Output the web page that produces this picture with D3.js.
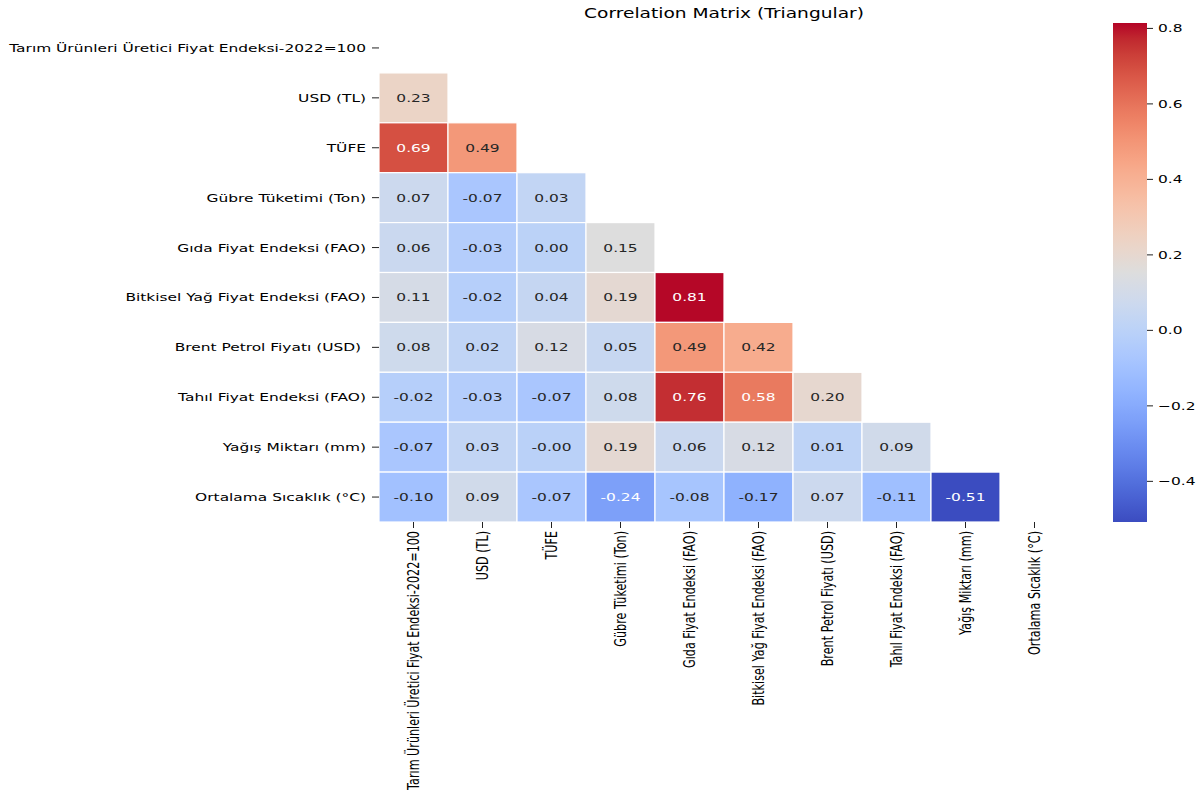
<!DOCTYPE html>
<html>
<head>
<meta charset="utf-8">
<script src="https://cdn.jsdelivr.net/npm/d3@7"></script>
<style>
  html, body { margin: 0; padding: 0; background: #fff; }
  svg { display: block; font-family: "DejaVu Sans", sans-serif; }
</style>
</head>
<body>
<svg id="chart" width="1203" height="796"></svg>
<script>
// ---------------- data ----------------
const categories = [
  "Tarım Ürünleri Üretici Fiyat Endeksi-2022=100",
  "USD (TL)",
  "TÜFE",
  "Gübre Tüketimi (Ton)",
  "Gıda Fiyat Endeksi (FAO)",
  "Bitkisel Yağ Fiyat Endeksi (FAO)",
  "Brent Petrol Fiyatı (USD) ",
  "Tahıl Fiyat Endeksi (FAO)",
  "Yağış Miktarı (mm)",
  "Ortalama Sıcaklık (°C)"
];
// lower triangle rows (row i has i values, for columns 0..i-1)
const row1 = [0.23];
const row2 = [0.69, 0.49];
const row3 = [0.07, -0.07, 0.03];
const row4 = [0.06, -0.03, 0.00, 0.15];
const row5 = [0.11, -0.02, 0.04, 0.19, 0.81];
const row6 = [0.08, 0.02, 0.12, 0.05, 0.49, 0.42];
const row7 = [-0.02, -0.03, -0.07, 0.08, 0.76, 0.58, 0.20];
const row8 = [-0.07, 0.03, -0.004, 0.19, 0.06, 0.12, 0.01, 0.09];
const row9 = [-0.10, 0.09, -0.07, -0.24, -0.08, -0.17, 0.07, -0.11, -0.51];
const lowerRows = [[], row1, row2, row3, row4, row5, row6, row7, row8, row9];
const colorbarTicks = [-0.4, -0.2, 0.0, 0.2, 0.4, 0.6, 0.8];
const colorRange = [-0.509, 0.813];
const chartTitle = "Correlation Matrix (Triangular)";

// coolwarm colormap samples (Moreland)
const coolwarm = [
  [59,76,192],[68,90,204],[77,104,215],[87,117,225],[98,130,234],[108,142,241],
  [119,154,247],[130,165,251],[141,176,254],[152,185,255],[163,194,255],[174,201,253],
  [184,208,249],[194,213,244],[204,217,238],[213,219,230],[221,221,221],[229,216,209],
  [236,211,197],[241,204,185],[245,196,173],[247,187,160],[247,177,148],[247,166,135],
  [244,154,123],[241,141,111],[236,127,99],[229,112,88],[222,96,77],[213,80,66],
  [203,62,56],[192,40,47],[180,4,38]
];

// ---------------- layout ----------------
const SX = 1.378;         // horizontal text stretch of the reference
const FS = 11.2;          // font size
const TFS = 13.5;         // title font size
const pL = 379, pR = 1069, pT = 23, pB = 522;
const cbX0 = 1113, cbX1 = 1147;

const svg = d3.select("#chart");

const cells = [];
lowerRows.forEach((r, i) => r.forEach((v, j) => cells.push({ row: i, col: j, v })));

const x = d3.scaleBand().domain(d3.range(categories.length)).range([pL, pR]).padding(0);
const y = d3.scaleBand().domain(d3.range(categories.length)).range([pT, pB]).padding(0);

const cmapStops = d3.scaleLinear()
  .domain(coolwarm.map((_, k) => k / (coolwarm.length - 1)))
  .range(coolwarm.map(c => d3.rgb(c[0], c[1], c[2]).toString()))
  .interpolate(d3.interpolateRgb)
  .clamp(true);
const norm = d3.scaleLinear().domain(colorRange).range([0, 1]).clamp(true);
const color = v => cmapStops(norm(v));

function luminance(c) {
  const ch = [c.r, c.g, c.b].map(u => {
    u = u / 255;
    return u <= 0.03928 ? u / 12.92 : Math.pow((u + 0.055) / 1.055, 2.4);
  });
  return 0.2126 * ch[0] + 0.7152 * ch[1] + 0.0722 * ch[2];
}

// ---------------- cells ----------------
const g = svg.append("g");
g.selectAll("rect.cell").data(cells).enter().append("rect")
  .attr("class", "cell")
  .attr("x", d => x(d.col))
  .attr("y", d => y(d.row))
  .attr("width", x.bandwidth())
  .attr("height", y.bandwidth())
  .attr("fill", d => color(d.v))
  .attr("stroke", "#fff")
  .attr("stroke-width", 1.2);

g.selectAll("text.annot").data(cells).enter().append("text")
  .attr("class", "annot")
  .attr("transform", d => `translate(${x(d.col) + x.bandwidth() / 2},${y(d.row) + y.bandwidth() / 2}) scale(${SX},1)`)
  .attr("text-anchor", "middle")
  .attr("dy", "0.36em")
  .attr("font-size", FS)
  .attr("fill", d => luminance(d3.rgb(color(d.v))) > 0.408 ? "#262626" : "#ffffff")
  .text(d => d.v.toFixed(2));

// ---------------- axes ----------------
const yAxis = svg.append("g").attr("transform", `translate(${pL},0)`)
  .call(d3.axisLeft(y).tickSize(7).tickFormat(i => categories[i]));
yAxis.select(".domain").remove();
yAxis.selectAll(".tick line").attr("stroke", "#222").attr("stroke-width", 1);
yAxis.selectAll(".tick text")
  .attr("x", null)
  .attr("transform", `translate(-13,0) scale(${SX},1)`)
  .attr("dy", "0.36em")
  .attr("font-size", FS)
  .attr("font-family", "DejaVu Sans")
  .attr("fill", "#000")
  .style("white-space", "pre");

const xAxis = svg.append("g").attr("transform", `translate(0,${pB})`)
  .call(d3.axisBottom(x).tickSize(6).tickFormat(i => categories[i].trim()));
xAxis.select(".domain").remove();
xAxis.selectAll(".tick line").attr("stroke", "#222").attr("stroke-width", 1);
xAxis.selectAll(".tick text")
  .attr("y", null)
  .attr("transform", `translate(0,9) scale(${SX},1) rotate(-90)`)
  .attr("text-anchor", "end")
  .attr("x", 0)
  .attr("dy", "0.36em")
  .attr("font-size", FS)
  .attr("font-family", "DejaVu Sans")
  .attr("fill", "#000");

// ---------------- title ----------------
svg.append("text")
  .attr("transform", `translate(${(pL + pR) / 2},18) scale(${SX},1)`)
  .attr("text-anchor", "middle")
  .attr("font-size", TFS)
  .attr("fill", "#000")
  .text(chartTitle);

// ---------------- colorbar ----------------
const cbY = d3.scaleLinear().domain(colorRange).range([pB, pT]);
const defs = svg.append("defs");
const grad = defs.append("linearGradient").attr("id", "cbgrad")
  .attr("x1", 0).attr("y1", 1).attr("x2", 0).attr("y2", 0);
d3.range(0, 1.0001, 1 / 64).forEach(t => {
  grad.append("stop").attr("offset", t)
    .attr("stop-color", color(colorRange[0] + t * (colorRange[1] - colorRange[0])));
});
svg.append("rect")
  .attr("x", cbX0).attr("y", pT)
  .attr("width", cbX1 - cbX0).attr("height", pB - pT)
  .attr("fill", "url(#cbgrad)");

const cbAxis = svg.append("g").attr("transform", `translate(${cbX1},0)`)
  .call(d3.axisRight(cbY).tickValues(colorbarTicks).tickSize(6).tickFormat(d3.format(".1f")));
cbAxis.select(".domain").remove();
cbAxis.selectAll(".tick line").attr("stroke", "#222");
cbAxis.selectAll(".tick text")
  .attr("x", null)
  .attr("transform", `translate(11,0) scale(${SX},1)`)
  .attr("dy", "0.36em")
  .attr("font-size", FS)
  .attr("font-family", "DejaVu Sans")
  .attr("fill", "#000");
</script>
</body>
</html>
